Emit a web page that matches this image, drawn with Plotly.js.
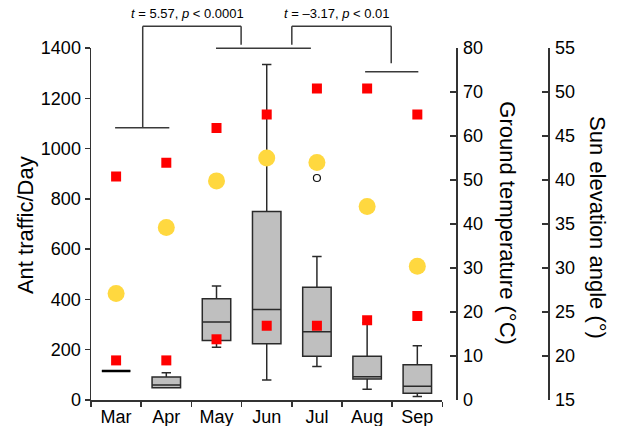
<!DOCTYPE html>
<html>
<head>
<meta charset="utf-8">
<script src="https://cdn.plot.ly/plotly-3.0.1.min.js"></script>
<style>
  html, body { margin: 0; padding: 0; background: #fff; }
  #chart { width: 617px; height: 426px; }
</style>
</head>
<body>
<div id="chart"></div>
<script>
// ---- data ----
const months = ['Mar', 'Apr', 'May', 'Jun', 'Jul', 'Aug', 'Sep'];

// Ant traffic per day (box statistics)
const trafficLowerFence = [115, 49, 210, 80, 133, 43, 14];
const trafficQ1         = [115, 49, 237, 224, 174, 84, 27];
const trafficMedian     = [115, 60, 310, 360, 271, 92, 55];
const trafficQ3         = [115, 91, 403, 750, 448, 174, 140];
const trafficUpperFence = [115, 108, 453, 1334, 571, 307, 216];

// outlier
const outlierMonths = ['Jul'];
const outlierValues = [883];

// Ground temperature (°C): daily max and min
const groundTempMax = [50.8, 53.9, 61.8, 64.9, 70.8, 70.8, 64.9];
const groundTempMin = [9.0, 9.0, 13.8, 16.9, 16.9, 18.1, 19.1];

// Sun elevation angle (°)
const sunAngle = [27.1, 34.6, 39.9, 42.5, 42.0, 37.0, 30.2];

// statistics labels
const statLabels = ['<i>t</i> = 5.57, <i>p</i> < 0.0001', '<i>t</i> = \u20133.17, <i>p</i> < 0.01'];

// ---- styling ----
const FONT = 'Liberation Sans, Arial, Helvetica, sans-serif';
const AX = '#333333';
const RED = '#FF0000';
const YELLOW = '#FFD83F';

function boxTrace(idx, lineColor, lineWidth) {
  return {
    type: 'box',
    x: idx.map(i => months[i]),
    q1: idx.map(i => trafficQ1[i]),
    median: idx.map(i => trafficMedian[i]),
    q3: idx.map(i => trafficQ3[i]),
    lowerfence: idx.map(i => trafficLowerFence[i]),
    upperfence: idx.map(i => trafficUpperFence[i]),
    fillcolor: '#BFBFBF',
    line: { color: lineColor, width: lineWidth },
    whiskerwidth: 0.33,
    boxpoints: false,
    xaxis: 'x', yaxis: 'y',
    hoverinfo: 'skip',
    showlegend: false
  };
}

const traces = [
  boxTrace([0, 1, 2, 3, 4, 5, 6], '#2a2a2a', 1.5),
  // March has a single value: drawn as a heavier flat bar
  boxTrace([0], '#000000', 2.5),
  {
    type: 'scatter', mode: 'markers',
    x: outlierMonths, y: outlierValues,
    marker: { symbol: 'circle-open', size: 7, color: '#111', line: { width: 1.2, color: '#111' } },
    xaxis: 'x', yaxis: 'y', showlegend: false, hoverinfo: 'skip'
  },
  {
    type: 'scatter', mode: 'markers',
    x: months, y: groundTempMax,
    marker: { symbol: 'square', size: 10, color: RED },
    xaxis: 'x', yaxis: 'y2', showlegend: false, hoverinfo: 'skip'
  },
  {
    type: 'scatter', mode: 'markers',
    x: months, y: groundTempMin,
    marker: { symbol: 'square', size: 10, color: RED },
    xaxis: 'x', yaxis: 'y2', showlegend: false, hoverinfo: 'skip'
  },
  {
    type: 'scatter', mode: 'markers',
    x: months, y: sunAngle,
    marker: { symbol: 'circle', size: 17, color: YELLOW },
    xaxis: 'x', yaxis: 'y3', showlegend: false, hoverinfo: 'skip'
  }
];

const axisCommon = {
  showgrid: false, zeroline: false,
  showline: true, linecolor: AX, linewidth: 1.5,
  tickcolor: AX, tickwidth: 1.5, ticklen: 5,
  tickfont: { family: FONT, size: 18, color: '#000' }
};

function seg(x0, y0, x1, y1) {
  return { type: 'line', xref: 'x', yref: 'paper', x0: x0, y0: y0, x1: x1, y1: y1,
           line: { color: '#3a3a3a', width: 1.5 } };
}

const layout = {
  width: 617, height: 426,
  margin: { l: 91, r: 69, t: 48, b: 26, pad: 0 },
  paper_bgcolor: '#fff', plot_bgcolor: 'rgba(0,0,0,0)',
  font: { family: FONT, color: '#000' },
  showlegend: false,
  boxgap: 0.19,
  boxmode: 'overlay',
  xaxis: Object.assign({}, axisCommon, {
    type: 'category', domain: [0, 0.769], range: [-0.5, 6.5],
    ticks: 'outside', tickson: 'boundaries', anchor: 'y'
  }),
  yaxis: Object.assign({}, axisCommon, {
    range: [0, 1400], dtick: 200, ticks: 'outside', anchor: 'x'
  }),
  yaxis2: Object.assign({}, axisCommon, {
    overlaying: 'y', side: 'right', anchor: 'free', position: 0.7987,
    range: [0, 80], dtick: 10, ticks: 'inside', ticklen: 6, ticklabelstandoff: 2
  }),
  yaxis3: Object.assign({}, axisCommon, {
    overlaying: 'y', side: 'right', anchor: 'free', position: 1.0,
    range: [15, 55], dtick: 5, ticks: 'inside', ticklen: 6, ticklabelstandoff: 2
  }),
  shapes: [
    seg(-0.02, 0.7736, 1.06, 0.7736),
    seg(0.53, 0.7736, 0.53, 1.0616),
    seg(0.53, 1.0616, 2.49, 1.0616),
    seg(2.49, 1.0616, 2.49, 1.0094),
    seg(1.99, 0.9991, 3.88, 0.9991),
    seg(3.50, 1.0094, 3.50, 1.0616),
    seg(3.50, 1.0616, 5.48, 1.0616),
    seg(5.48, 1.0616, 5.48, 0.9565),
    seg(4.96, 0.9327, 6.02, 0.9327)
  ],
  annotations: [
    { text: statLabels[0], xref: 'x', yref: 'paper', x: 1.42, y: 1.0966,
      xanchor: 'center', yanchor: 'middle', showarrow: false,
      font: { family: FONT, size: 13, color: '#000' } },
    { text: statLabels[1], xref: 'x', yref: 'paper', x: 4.39, y: 1.0966,
      xanchor: 'center', yanchor: 'middle', showarrow: false,
      font: { family: FONT, size: 13, color: '#000' } },
    { text: 'Ant traffic/Day', xref: 'paper', yref: 'paper', x: -0.1444, y: 0.497,
      xanchor: 'center', yanchor: 'middle', textangle: -90, showarrow: false,
      font: { family: FONT, size: 22, color: '#000' } },
    { text: 'Ground temperature (°C)', xref: 'paper', yref: 'paper', x: 0.9105, y: 0.5017,
      xanchor: 'center', yanchor: 'middle', textangle: 90, showarrow: false,
      font: { family: FONT, size: 22, color: '#000' } },
    { text: 'Sun elevation angle (°)', xref: 'paper', yref: 'paper', x: 1.1083, y: 0.49,
      xanchor: 'center', yanchor: 'middle', textangle: 90, showarrow: false,
      font: { family: FONT, size: 22, color: '#000' } }
  ]
};

Plotly.newPlot('chart', traces, layout, { displayModeBar: false, staticPlot: true });
</script>
</body>
</html>
